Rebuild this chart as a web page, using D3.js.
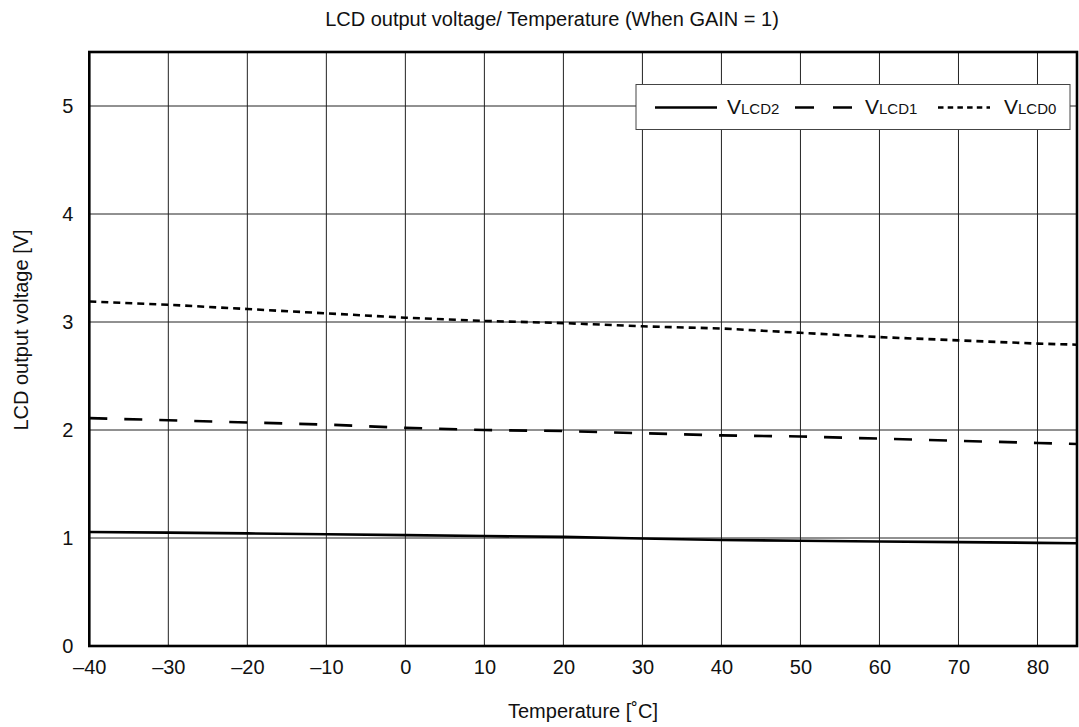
<!DOCTYPE html>
<html><head><meta charset="utf-8">
<script src="https://cdn.jsdelivr.net/npm/d3@7"></script>
<style>body{margin:0;background:#fff}svg{display:block}text{font-family:"Liberation Sans",Arial,sans-serif;fill:#111}</style>
</head><body><svg id="c" width="1079" height="727"></svg>
<script>
const temps = [-40,-30,-20,-10,0,10,20,30,40,50,60,70,80,85];
const vlcd0 = [3.19,3.16,3.12,3.08,3.04,3.01,2.99,2.96,2.94,2.90,2.86,2.83,2.80,2.79];
const vlcd1 = [2.11,2.09,2.07,2.05,2.02,2.00,1.99,1.97,1.95,1.94,1.92,1.90,1.88,1.87];
const vlcd2 = [1.056,1.05,1.043,1.035,1.027,1.018,1.01,0.995,0.982,0.975,0.968,0.962,0.955,0.952];
const xTicks = [-40,-30,-20,-10,0,10,20,30,40,50,60,70,80];
const yTicks = [0,1,2,3,4,5];
const seriesNames = ["LCD2","LCD1","LCD0"];
const title = "LCD output voltage/ Temperature (When GAIN = 1)";
const xLabel = "Temperature [˚C]";
const yLabel = "LCD output voltage [V]";

const svg = d3.select("#c");
const L=89.3,R=1077,T=52,B=646;
const FS=20;
const x = d3.scaleLinear().domain([-40,85]).range([L,R]);
const y = d3.scaleLinear().domain([0,5.5]).range([B,T]);
const fmt = d => d<0 ? "\u2013"+Math.abs(d) : String(d);

// grid
const g = svg.append("g");
g.selectAll(".vg").data(xTicks.slice(1)).join("line")
  .attr("x1",d=>x(d)).attr("x2",d=>x(d)).attr("y1",T).attr("y2",B)
  .attr("stroke","#222").attr("stroke-width",1);
g.selectAll(".hg").data(yTicks.slice(1)).join("line")
  .attr("y1",d=>y(d)).attr("y2",d=>y(d)).attr("x1",L).attr("x2",R)
  .attr("stroke","#222").attr("stroke-width",1);

// axes labels via d3 axes
const xa = svg.append("g").attr("transform",`translate(0,${B})`)
  .call(d3.axisBottom(x).tickValues(xTicks).tickFormat(fmt).tickSize(0).tickPadding(13.5));
xa.select(".domain").remove();
xa.selectAll("text").attr("font-size",FS).attr("font-family","Liberation Sans, Arial, sans-serif").attr("fill","#111");
const ya = svg.append("g").attr("transform",`translate(${L},0)`)
  .call(d3.axisLeft(y).tickValues(yTicks).tickFormat(d3.format("d")).tickSize(0).tickPadding(16));
ya.select(".domain").remove();
ya.selectAll("text").attr("font-size",FS).attr("font-family","Liberation Sans, Arial, sans-serif").attr("fill","#111");

// lines
const line = d3.line().x((d,i)=>x(temps[i])).y(d=>y(d));
const styles = [
  {data:vlcd2, dash:null},
  {data:vlcd1, dash:"18,17"},
  {data:vlcd0, dash:"7,5"}
];
svg.append("clipPath").attr("id","cp").append("rect").attr("x",L).attr("y",T).attr("width",R-L).attr("height",B-T);
svg.append("g").attr("clip-path","url(#cp)").selectAll("path").data(styles).join("path")
  .attr("d",d=>line(d.data)).attr("fill","none").attr("stroke","#000")
  .attr("stroke-width",2.6).attr("stroke-dasharray",d=>d.dash);

// frame
svg.append("rect").attr("x",L).attr("y",T).attr("width",R-L).attr("height",B-T)
  .attr("fill","none").attr("stroke","#000").attr("stroke-width",2.6);

// legend
const lg = svg.append("g");
lg.append("rect").attr("x",636).attr("y",84.5).attr("width",434).attr("height",45)
  .attr("fill","#fff").attr("stroke","#444").attr("stroke-width",1);
const legItems = [
  {x1:655,x2:717,tx:727,dash:null},
  {x1:795,x2:852,tx:865,dash:"19,19"},
  {x1:938,x2:990,tx:1004,dash:"5.5,4.2"}
];
legItems.forEach((it,i)=>{
  lg.append("line").attr("x1",it.x1).attr("x2",it.x2).attr("y1",107.5).attr("y2",107.5)
    .attr("stroke","#000").attr("stroke-width",2.6).attr("stroke-dasharray",it.dash);
  const t = lg.append("text").attr("x",it.tx).attr("y",113.5).attr("font-size",21);
  t.append("tspan").text("V");
  t.append("tspan").attr("font-size",15).text(seriesNames[i]);
});

// titles
svg.append("text").attr("x",552).attr("y",26).attr("text-anchor","middle").attr("font-size",FS).text(title);
svg.append("text").attr("x",583).attr("y",718).attr("text-anchor","middle").attr("font-size",FS).text(xLabel);
svg.append("text").attr("transform","translate(28,330) rotate(-90)").attr("text-anchor","middle").attr("font-size",FS).text(yLabel);
</script></body></html>
